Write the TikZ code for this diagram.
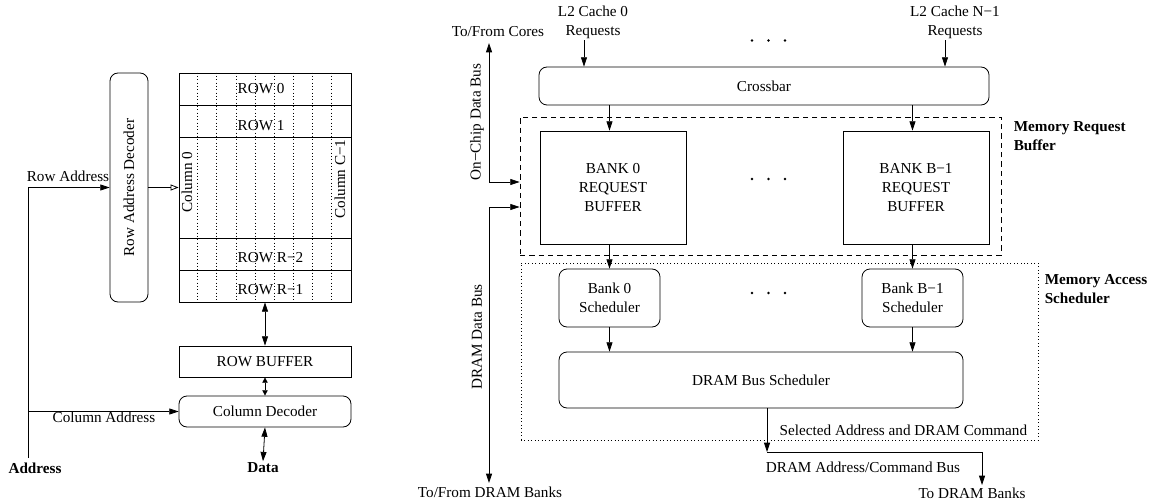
\documentclass[tikz,border=0pt]{standalone}
\usepackage{fontspec}
\setmainfont{Liberation Serif}
\usetikzlibrary{arrows.meta}
\usetikzlibrary{calc}
\tikzset{every node/.style={font=\fontsize{11.4}{14.2}\selectfont, inner sep=1pt}}
\tikzset{>={Triangle[length=7pt,width=4.5pt]}}
\tikzset{opentip/.style={-{Triangle[open,length=6pt,width=4.5pt]}}}
\tikzset{shorttip/.style={{Triangle[length=4pt,width=4pt]}-{Triangle[length=4pt,width=4pt]}}}
\tikzset{mybox/.style={draw, line width=0.6pt, inner sep=0pt, align=center}}
\tikzset{myboxRnd/.style={mybox, rounded corners=6pt}}
\tikzset{rowbox/.style={mybox, minimum width=129pt, minimum height=24pt}}
\tikzset{colline/.style={dotted, line width=0.5pt}}
\tikzset{boldtxt/.style={font=\fontsize{11.4}{14.2}\selectfont\bfseries, align=left}}

\begin{document}
\begin{tikzpicture}[x=0.75pt, y=-0.75pt, line width=0.6pt]
\useasboundingbox (0,0) rectangle (1151,502);

% DRAM chip
\node[myboxRnd, rotate=90, minimum width=171.75pt, minimum height=28.5pt] (rowdec) at (129, 187.5) {Row Address Decoder};

\node[rowbox] (row0) at (265, 89) { };
\node[rowbox] (row1) at (265, 121) { };
\node[rowbox, minimum height=75.75pt] (rowmid) at (265, 187.5) { };
\node[rowbox] (rowr2) at (265, 254) { };
\node[rowbox] (rowr1) at (265, 286) { };

\node[anchor=west] (row0txt) at (236, 89) {ROW 0};
\node[anchor=west] (row1txt) at (236, 126) {ROW 1};
\node[anchor=west] (rowr2txt) at (236, 258) {ROW R−2};
\node[anchor=west] (rowr1txt) at (236, 290) {ROW R−1};
\node[rotate=90] (col0) at (187, 182) {Column 0};
\node[rotate=90] (colc) at (340, 179) {Column C−1};

\foreach \i in {1,...,8}
  \draw[colline] ($(row0.north west)+(\i*19.1,0)$) -- ($(rowr1.south west)+(\i*19.1,0)$);

\node[mybox, minimum width=129pt, minimum height=23.25pt] (rowbuf) at (265, 361.5) {ROW BUFFER};
\node[myboxRnd, minimum width=129pt, minimum height=23.25pt] (coldec) at (265, 411.5) {Column Decoder};

\coordinate (addrbot) at (28, 458);
\node[boldtxt] (addr) at (35, 468) {Address};
\node[boldtxt] (data) at (263, 468) {Data};
\node (rowaddr) at (68, 176) {Row Address};
\node (coladdr) at (104, 417) {Column Address};

\draw[->] (addrbot) |- (rowdec.north);
\draw[->] (addrbot |- coldec.west) -- (coldec.west);
\draw[opentip] (rowdec.south) -- (rowmid.west);
\draw[<->] (rowr1.south) -- (rowbuf.north);
\draw[shorttip] (rowbuf.south) -- (coldec.north);
\draw[<->] (coldec.south) -- (data.north);

% memory controller
\node[align=center] (l2a) at (593, 22) {L2 Cache 0\\Requests};
\node[align=center] (l2n) at (955, 22) {L2 Cache N−1\\Requests};
\node[myboxRnd, minimum width=337.5pt, minimum height=28.5pt] (xbar) at (764, 86) {Crossbar};

\node[draw, dashed, dash pattern=on 4pt off 3pt, minimum width=360.75pt, minimum height=103.5pt] (mrb) at (760.5, 186) { };
\node[draw, dotted, minimum width=387.75pt, minimum height=132.75pt] (mas) at (779.5, 351.5) { };

\node[mybox, minimum width=109.5pt, minimum height=84.75pt] (buf0) at (613, 187.5) {BANK 0\\REQUEST\\BUFFER};
\node[mybox, minimum width=109.5pt, minimum height=84.75pt] (bufb) at (916, 187.5) {BANK B−1\\REQUEST\\BUFFER};
\node[myboxRnd, minimum width=75.75pt, minimum height=43.5pt] (sch0) at (609.5, 298) {Bank 0\\Scheduler};
\node[myboxRnd, minimum width=75.75pt, minimum height=43.5pt] (schb) at (912.5, 298) {Bank B−1\\Scheduler};
\node[myboxRnd, minimum width=303pt, minimum height=42pt] (dbs) at (761, 380) {DRAM Bus Scheduler};

\foreach \y in {40.5, 179, 293}
  \foreach \x in {752, 768.5, 785}
    \fill (\x, \y) circle (1.1pt);

\node[boldtxt, anchor=west] (mrbtxt) at (1012, 136.5) {Memory Request\\Buffer};
\node[boldtxt, anchor=west] (mastxt) at (1043, 289.5) {Memory Access\\Scheduler};

\draw[->] ([xshift=-6.75pt]l2a.south) -- ([xshift=-6.75pt]l2a.south |- xbar.north);
\draw[->] ([xshift=-7.5pt]l2n.south) -- ([xshift=-7.5pt]l2n.south |- xbar.north);
\draw[->] (sch0.north |- xbar.south) -- (sch0.north |- buf0.north);
\draw[->] (schb.north |- xbar.south) -- (schb.north |- bufb.north);
\draw[->] (sch0.north |- buf0.south) -- (sch0.north);
\draw[->] (schb.north |- bufb.south) -- (schb.north);
\draw[->] (sch0.south) -- (sch0.south |- dbs.north);
\draw[->] (schb.south) -- (schb.south |- dbs.north);

% buses
\node (cores) at (498, 32) {To/From Cores};
\node (dramb) at (490, 492) {To/From DRAM Banks};
\node[rotate=90] (ocdb) at (477, 122) {On−Chip Data Bus};
\node[rotate=90] (ddb) at (477, 337) {DRAM Data Bus};
\coordinate (ocbtop) at (489, 43);
\coordinate (ddbbot) at (489, 483);
\draw[<->] (ocbtop) |- ($(mrb.west)+(0,-4)$);
\draw[<->] ($(mrb.west)+(0,21)$) -| (ddbbot);

\coordinate (selpt) at (767, 452);
\coordinate (busend) at (982, 485);
\node[anchor=west] (seltxt) at (778, 430) {Selected Address and DRAM Command};
\node (bustxt) at (863, 467) {DRAM Address/Command Bus};
\node (todram) at (972, 493) {To DRAM Banks};
\draw[->] (dbs.south -| selpt) -- (selpt);
\draw[->] (selpt) -| (busend);

\end{tikzpicture}
\end{document}
